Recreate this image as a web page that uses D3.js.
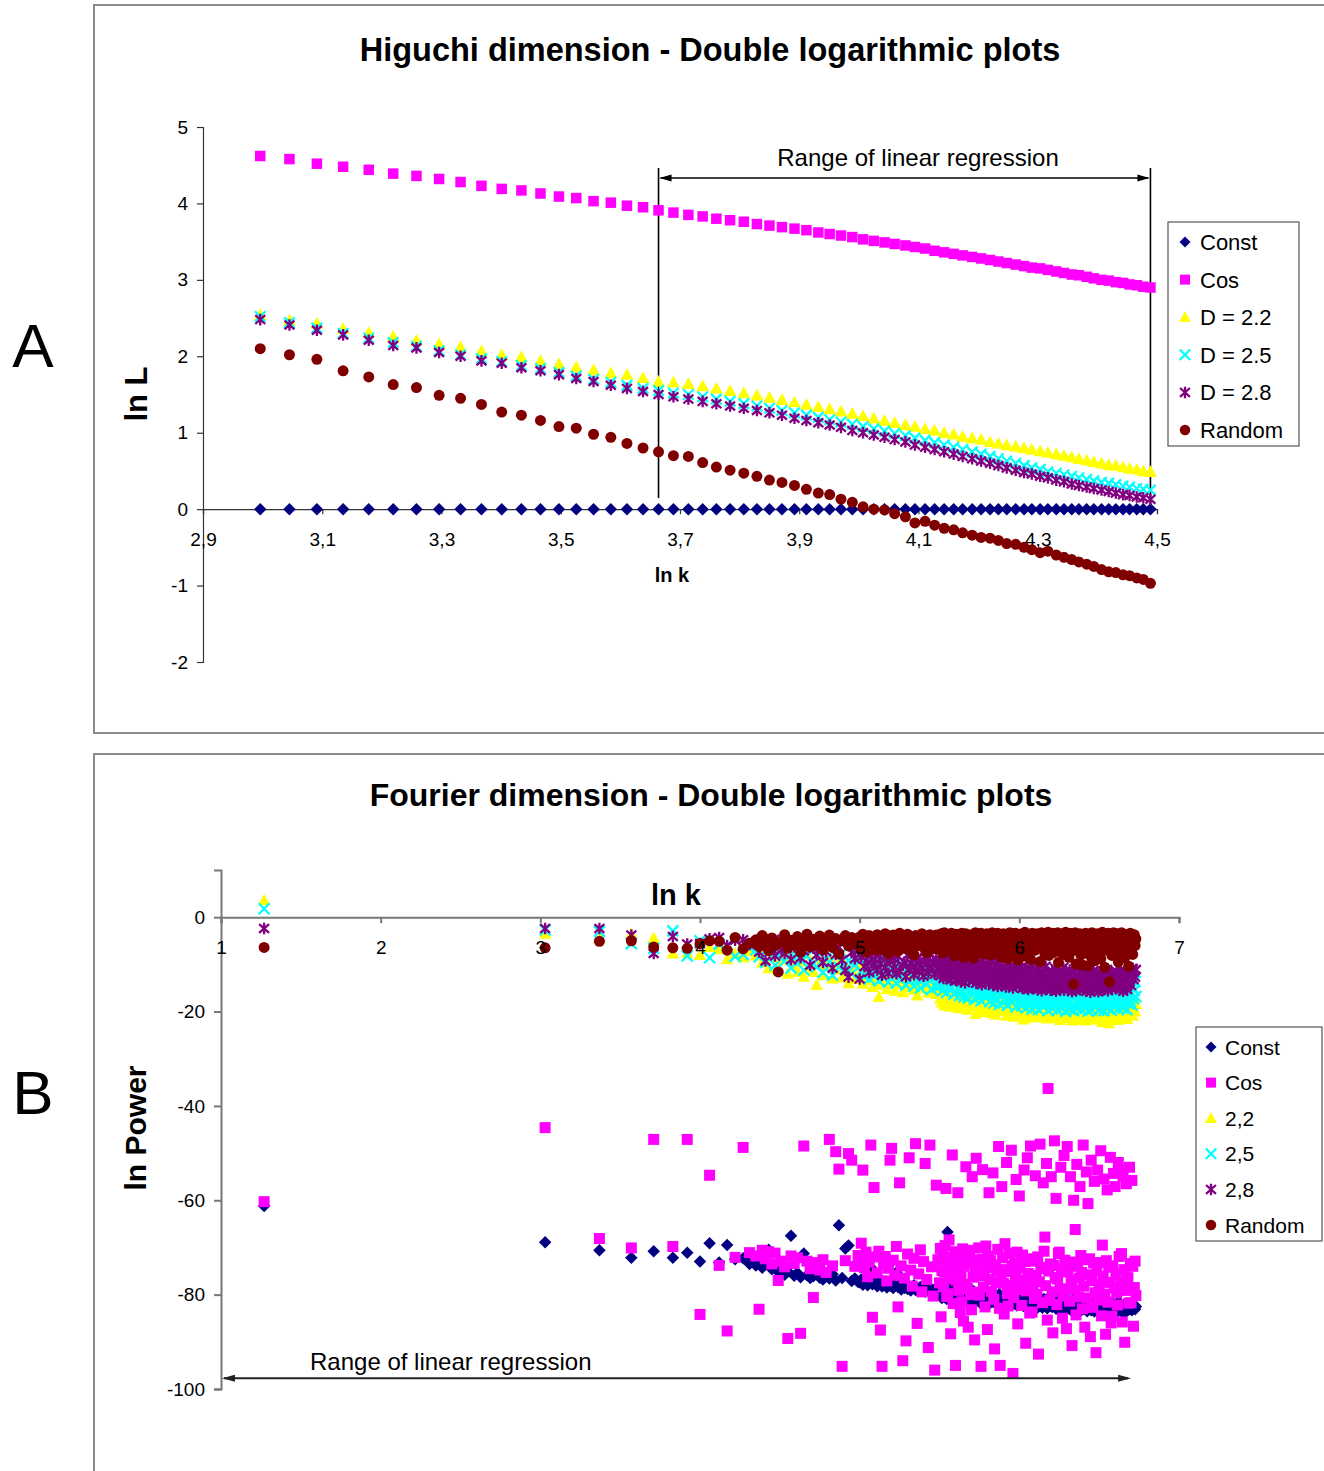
<!DOCTYPE html>
<html><head><meta charset="utf-8">
<script src="https://cdn.jsdelivr.net/npm/d3@7"></script>
<style>
html,body{margin:0;padding:0;background:#fff}
svg{display:block}
</style>
</head><body>
<svg id="chart" width="1324" height="1471"></svg>
<script>
// ---------------- Panel A : Higuchi dimension (ln k = ln 20 ... ln 89) ----------------
const higuchiLnK = [2.996,3.045,3.091,3.135,3.178,3.219,3.258,3.296,3.332,3.367,3.401,3.434,3.466,3.497,3.526,3.555,3.584,3.611,3.638,3.664,
3.689,3.714,3.738,3.761,3.784,3.807,3.829,3.850,3.871,3.892,3.912,3.932,3.951,3.970,3.989,4.007,4.025,4.043,4.060,4.078,
4.094,4.111,4.127,4.143,4.159,4.174,4.190,4.205,4.220,4.234,4.248,4.263,4.277,4.290,4.304,4.317,4.331,4.344,4.357,4.369,
4.382,4.394,4.407,4.419,4.431,4.443,4.454,4.466,4.477,4.489];
const higuchiConst = [0,0,0,0,0,0,0,0,0,0,0,0,0,0,0,0,0,0,0,0,0,0,0,0,0,0,0,0,0,0,0,0,0,0,0,0,0,0,0,0,0,0,0,0,0,0,0,0,0,0,0,0,0,0,0,0,0,0,0,0,0,0,0,0,0,0,0,0,0,0];
const higuchiCos = [4.62,4.58,4.52,4.48,4.44,4.39,4.36,4.32,4.28,4.23,4.19,4.17,4.13,4.09,4.07,4.03,4.01,3.97,3.95,3.91,3.88,
3.85,3.83,3.80,3.78,3.76,3.73,3.71,3.69,3.67,3.65,3.62,3.60,3.58,3.56,3.53,3.51,3.49,3.47,3.45,3.43,3.41,3.38,3.36,3.34,3.32,3.30,3.28,3.26,3.24,3.22,3.20,3.18,3.16,3.15,3.13,3.11,3.09,3.07,3.06,3.04,3.02,3.00,2.99,2.97,2.96,2.94,2.93,2.91,2.90];
const higuchiD22 = [2.54,2.47,2.43,2.36,2.31,2.26,2.21,2.16,2.12,2.07,2.02,1.99,1.94,1.90,1.86,1.82,1.78,1.76,1.72,1.67,1.66,
1.64,1.61,1.58,1.55,1.52,1.49,1.46,1.43,1.40,1.37,1.34,1.31,1.28,1.25,1.22,1.19,1.16,1.13,1.10,1.08,1.05,1.03,1.00,0.98,0.95,0.93,0.91,0.88,0.86,0.84,0.82,0.80,0.78,0.76,0.74,0.72,0.70,0.68,0.66,0.64,0.62,0.60,0.58,0.57,0.55,0.53,0.52,0.50,0.49];
const higuchiD25 = [2.52,2.44,2.37,2.30,2.24,2.18,2.13,2.07,2.02,1.97,1.93,1.88,1.84,1.79,1.74,1.70,1.66,1.62,1.58,1.55,1.52,
1.50,1.47,1.44,1.41,1.38,1.35,1.32,1.29,1.26,1.23,1.20,1.17,1.14,1.11,1.08,1.05,1.02,0.99,0.96,0.93,0.90,0.87,0.84,0.81,0.78,0.75,0.72,0.69,0.66,0.63,0.60,0.57,0.54,0.52,0.49,0.47,0.45,0.43,0.41,0.39,0.37,0.35,0.34,0.32,0.30,0.29,0.27,0.26,0.25];
const higuchiD28 = [2.48,2.41,2.34,2.28,2.21,2.14,2.11,2.05,2.00,1.94,1.91,1.85,1.81,1.76,1.71,1.67,1.62,1.58,1.54,1.50,1.47,
1.44,1.41,1.38,1.35,1.32,1.29,1.26,1.23,1.19,1.16,1.13,1.10,1.07,1.03,1.00,0.97,0.94,0.91,0.88,0.84,0.81,0.78,0.75,0.72,0.69,0.66,0.63,0.60,0.57,0.54,0.51,0.48,0.46,0.43,0.41,0.38,0.36,0.33,0.31,0.29,0.27,0.25,0.23,0.21,0.19,0.18,0.16,0.15,0.13];
const higuchiRandom = [2.10,2.02,1.96,1.81,1.73,1.63,1.59,1.49,1.45,1.37,1.27,1.23,1.16,1.08,1.06,0.98,0.94,0.86,0.80,0.75,0.70,
0.69,0.61,0.55,0.51,0.47,0.43,0.38,0.35,0.31,0.26,0.21,0.19,0.13,0.09,0.03,0.00,-0.01,-0.06,-0.10,-0.18,-0.16,-0.21,-0.25,-0.27,-0.31,-0.34,-0.37,-0.38,-0.41,-0.45,-0.46,-0.50,-0.53,-0.57,-0.55,-0.60,-0.63,-0.66,-0.69,-0.72,-0.75,-0.79,-0.82,-0.83,-0.86,-0.87,-0.90,-0.92,-0.97];
const higuchiXTicks = [2.9,3.1,3.3,3.5,3.7,3.9,4.1,4.3,4.5];
const higuchiYTicks = [5,4,3,2,1,0,-1,-2];
const higuchiNames = ["Const","Cos","D = 2.2","D = 2.5","D = 2.8","Random"];

// ---------------- Panel B : Fourier dimension ----------------
const fourierLnK = [1.27,3.03,3.37,3.57,3.71,3.83,3.92,4.00,4.06,4.12,4.17,4.22,4.27,4.31,
4.35,4.37,4.39,4.41,4.43,4.45,4.47,4.49,4.51,4.53,4.55,4.57,4.59,4.61,4.63,4.65,4.67,
4.69,4.71,4.73,4.75,4.77,4.79,4.81,4.83,4.85,4.87,4.89,4.91,4.93,4.95,4.97,4.99,
5.00,5.01,5.02,5.03,5.04,5.05,5.06,5.07,5.08,5.09,
5.10,5.11,5.12,5.13,5.14,5.15,5.16,5.17,5.18,5.19,
5.20,5.21,5.22,5.23,5.24,5.25,5.26,5.27,5.28,5.29,
5.30,5.31,5.32,5.33,5.34,5.35,5.36,5.37,5.38,5.39,
5.40,5.41,5.42,5.43,5.44,5.45,5.46,5.47,5.48,5.49,
5.500,5.505,5.510,5.515,5.520,5.525,5.530,5.535,5.540,5.545,5.550,5.555,5.560,5.565,5.570,5.575,5.580,5.585,5.590,5.595,
5.600,5.605,5.610,5.615,5.620,5.625,5.630,5.635,5.640,5.645,5.650,5.655,5.660,5.665,5.670,5.675,5.680,5.685,5.690,5.695,
5.700,5.705,5.710,5.715,5.720,5.725,5.730,5.735,5.740,5.745,5.750,5.755,5.760,5.765,5.770,5.775,5.780,5.785,5.790,5.795,
5.800,5.805,5.810,5.815,5.820,5.825,5.830,5.835,5.840,5.845,5.850,5.855,5.860,5.865,5.870,5.875,5.880,5.885,5.890,5.895,
5.900,5.905,5.910,5.915,5.920,5.925,5.930,5.935,5.940,5.945,5.950,5.955,5.960,5.965,5.970,5.975,5.980,5.985,5.990,5.995,
6.000,6.005,6.010,6.015,6.020,6.025,6.030,6.035,6.040,6.045,6.050,6.055,6.060,6.065,6.070,6.075,6.080,6.085,6.090,6.095,
6.100,6.105,6.110,6.115,6.120,6.125,6.130,6.135,6.140,6.145,6.150,6.155,6.160,6.165,6.170,6.175,6.180,6.185,6.190,6.195,
6.200,6.205,6.210,6.215,6.220,6.225,6.230,6.235,6.240,6.245,6.250,6.255,6.260,6.265,6.270,6.275,6.280,6.285,6.290,6.295,
6.300,6.305,6.310,6.315,6.320,6.325,6.330,6.335,6.340,6.345,6.350,6.355,6.360,6.365,6.370,6.375,6.380,6.385,6.390,6.395,
6.400,6.405,6.410,6.415,6.420,6.425,6.430,6.435,6.440,6.445,6.450,6.455,6.460,6.465,6.470,6.475,6.480,6.485,6.490,6.495,
6.500,6.505,6.510,6.515,6.520,6.525,6.530,6.535,6.540,6.545,6.550,6.555,6.560,6.565,6.570,6.575,6.580,6.585,6.590,6.595,
6.600,6.605,6.610,6.615,6.620,6.625,6.630,6.635,6.640,6.645,6.650,6.655,6.660,6.665,6.670,6.675,6.680,6.685,6.690,6.695,
6.700,6.705,6.710,6.715,6.720,6.725,6.730];

const fourierConst = [-61.2,-68.9,-70.6,-72.2,-70.8,-72.2,-71.1,-73.0,-69.1,-73.2,-69.5,-72.5,-72.3,-73.5,
-73.8,-72.6,-74.3,-73.1,-70.5,-74.6,-73.9,-75.2,-74.4,-75.8,-75.1,-67.5,-76.0,-75.4,-76.3,-71.3,-75.9,-76.5,-76.1,-73.6,-76.4,-76.8,-75.9,-76.6,-75.7,-77.0,-65.3,-76.5,-70.2,-69.6,-77.1,-76.6,-77.3,
-77.4,-76.8,-77.9,-77.1,-76.5,-78.0,-77.3,-74.2,-77.8,-77.0,
-77.6,-78.2,-77.4,-76.9,-78.3,-77.8,-77.2,-78.5,-77.9,-78.1,
-77.5,-78.6,-78.0,-75.3,-78.4,-77.8,-78.9,-78.2,-78.6,-77.9,
-78.8,-78.3,-79.1,-78.5,-78.0,-79.0,-78.6,-79.3,-78.4,-79.0,
-78.7,-79.4,-78.9,-79.2,-78.5,-79.6,-79.0,-79.3,-78.8,-79.7,
-78.4,-80.2,-79.1,-80.7,-78.8,-79.9,-80.5,-78.6,-79.6,-80.9,-66.7,-79.2,-80.4,-78.9,-80.8,-79.5,-78.7,-80.3,-79.4,-81.0,
-79.3,-80.9,-78.9,-80.4,-81.2,-79.6,-80.1,-78.8,-80.7,-79.5,-81.3,-79.9,-80.6,-79.1,-81.0,-80.2,-79.4,-81.4,-79.8,-80.5,
-81.1,-79.6,-80.8,-79.3,-81.5,-80.1,-79.8,-81.2,-80.4,-79.5,-81.6,-80.0,-80.9,-79.7,-81.3,-80.5,-79.9,-81.7,-80.2,-80.7,
-79.9,-81.4,-80.3,-81.8,-80.0,-80.8,-81.5,-79.8,-81.1,-80.5,-81.9,-80.2,-81.2,-80.6,-81.6,-79.9,-81.0,-82.0,-80.4,-81.3,
-80.7,-81.8,-80.1,-81.4,-82.1,-80.6,-81.1,-80.3,-81.7,-80.9,-82.2,-80.5,-81.5,-80.8,-81.9,-80.4,-81.3,-82.3,-80.6,-81.6,
-81.0,-82.1,-80.5,-81.7,-80.9,-82.4,-81.2,-80.7,-81.9,-81.3,-82.5,-80.8,-81.6,-81.1,-82.2,-80.6,-81.8,-82.6,-81.0,-81.4,
-82.0,-80.9,-81.5,-82.7,-81.2,-80.8,-82.3,-81.6,-81.0,-82.8,-81.4,-80.9,-82.1,-81.7,-81.1,-82.9,-81.3,-80.8,-82.4,-81.8,
-81.2,-82.6,-81.5,-80.9,-82.2,-81.7,-83.0,-81.3,-82.5,-81.0,-82.8,-81.6,-82.0,-81.4,-83.1,-81.8,-81.1,-82.7,-81.5,-82.3,
-81.7,-82.9,-81.3,-82.4,-83.2,-81.6,-82.1,-81.2,-82.8,-81.9,-83.3,-81.5,-82.5,-81.8,-83.0,-81.4,-82.6,-83.4,-81.7,-82.2,
-82.0,-83.1,-81.6,-82.7,-81.9,-83.5,-82.3,-81.5,-82.9,-82.1,-83.3,-81.7,-82.6,-82.0,-83.6,-81.8,-82.4,-83.2,-81.9,-82.8,
-82.5,-81.8,-83.4,-82.2,-83.0,-81.6,-82.7,-83.7,-82.1,-82.9,-81.9,-83.5,-82.4,-82.8,-81.7,-83.3,-82.6,-83.8,-82.0,-82.7,
-83.1,-82.3,-81.9,-83.6,-82.5,-82.9,-81.8,-83.4,-82.2,-83.0,-82.6,-83.9,-82.1,-82.8,-83.5,-82.4,-81.9,-83.2,-82.7,-83.0,
-82.4,-83.3,-82.0,-82.8,-82.2,-83.1,-82.5];

const fourierCos = [-60.3,-44.6,-68.1,-70.1,-47.1,-69.8,-47.1,-84.2,-54.7,-73.8,-87.7,-72.1,-48.8,-71.1,
-71.8,-83.1,-70.6,-72.4,-70.9,-73.5,-71.2,-77.0,-72.9,-74.1,-89.3,-71.8,-73.4,-72.2,-88.2,-48.5,-72.9,-74.5,-80.6,-73.2,-74.8,-72.6,-75.3,-47.1,-73.9,-49.7,-53.4,-95.2,-72.8,-50.1,-51.5,-74.0,-71.7,
-72.5,-69.1,-53.6,-74.3,-71.0,-76.2,-73.1,-48.3,-84.8,-57.3,
-72.0,-75.4,-70.8,-87.5,-95.2,-73.6,-71.9,-77.1,-74.4,-51.5,
-49.0,-72.7,-75.9,-69.8,-82.6,-56.3,-73.9,-94.0,-76.5,-89.8,
-71.4,-51.0,-74.8,-78.2,-72.3,-48.0,-86.1,-75.6,-70.5,-79.4,
-73.0,-52.2,-76.8,-91.2,-48.3,-74.1,-80.3,-96.0,-56.8,-72.6,
-77.5,-70.2,-84.7,-74.9,-71.8,-78.3,-75.2,-69.6,-57.5,-80.4,-79.8,-73.0,-68.4,-76.6,-88.3,-72.1,-50.4,-81.9,-74.6,-70.9,
-95.0,-76.9,-73.4,-58.4,-79.1,-72.1,-83.8,-75.7,-81.5,-70.3,-85.6,-74.0,-77.8,-52.9,-71.5,-78.7,-86.9,-73.2,-70.6,-80.0,
-83.2,-55.0,-76.3,-72.7,-89.6,-74.8,-51.1,-79.5,-73.4,-70.1,-80.1,-76.0,-95.2,-72.5,-53.5,-78.4,-75.8,-82.6,-69.7,-74.3,
-87.4,-71.9,-58.4,-76.8,-72.8,-79.3,-74.1,-54.2,-81.0,-91.5,-73.7,-77.5,-74.9,-70.4,-48.6,-82.9,-95.0,-75.4,-57.1,-72.2,
-77.6,-84.1,-69.2,-74.7,-52.0,-79.8,-82.4,-71.3,-75.1,-78.0,-49.4,-73.9,-96.7,-80.6,-73.3,-76.2,-55.6,-71.0,-86.2,-78.9,
-59.1,-74.4,-78.4,-82.3,-71.6,-76.9,-53.6,-73.0,-90.3,-79.2,-51.0,-75.5,-76.0,-83.9,-48.5,-72.4,-83.7,-77.7,-72.9,-80.8,
-54.8,-75.9,-79.9,-72.0,-92.6,-77.3,-48.1,-74.2,-74.5,-81.7,-56.3,-70.8,-67.8,-78.1,-52.2,-85.4,-36.3,-75.0,-81.2,-73.5,
-55.0,-79.4,-88.1,-73.8,-47.4,-76.4,-59.6,-82.1,-76.7,-71.3,-71.0,-78.8,-53.0,-74.6,-85.0,-80.3,-50.5,-72.7,-78.8,-87.2,
-48.6,-75.2,-73.6,-81.4,-55.0,-77.1,-90.8,-73.1,-60.0,-79.0,-66.2,-84.3,-52.4,-74.0,-80.5,-76.5,-57.1,-71.7,-75.3,-83.0,
-48.3,-78.2,-86.9,-72.6,-54.0,-80.7,-60.7,-75.8,-72.4,-88.9,-51.5,-77.0,-82.7,-73.3,-56.0,-79.6,-92.3,-74.9,-53.6,-81.1,
-77.9,-73.2,-49.5,-84.5,-69.5,-76.1,-55.5,-79.9,-88.4,-72.8,-57.8,-81.6,-74.2,-77.4,-50.9,-86.0,-84.6,-73.9,-54.3,-78.6,
-57.1,-75.7,-79.6,-82.2,-52.0,-71.9,-53.6,-77.3,-71.3,-85.8,-54.9,-74.7,-90.1,-79.1,-56.5,-76.8,-76.4,-81.8,-53.0,-73.4,
-81.7,-55.8,-74.0,-86.7,-78.5,-72.9,-80.2];

const fourierD22 = [3.6,-3.5,-4.5,-3.5,-4.4,-7.7,-7.6,-8.0,-6.3,-6.8,-8.9,-7.7,-8.5,-7.2,
-8.1,-6.4,-9.6,-7.2,-10.8,-8.5,-6.9,-11.3,-9.0,-7.8,-12.0,-8.8,-10.1,-11.6,-9.4,-12.6,-7.9,-10.6,-11.6,-14.4,-9.8,-12.3,-10.4,-8.7,-13.0,-11.1,-9.6,-12.8,-10.2,-14.0,-11.4,-13.1,-9.9,
-12.2,-10.5,-14.1,-11.4,-9.8,-13.3,-12.6,-10.9,-14.8,-11.7,
-13.0,-14.4,-16.9,-12.1,-10.6,-13.8,-11.9,-15.2,-12.8,-14.0,
-11.3,-13.6,-15.6,-12.4,-14.3,-10.8,-13.1,-15.9,-12.7,-14.6,
-13.4,-11.6,-14.9,-12.9,-15.4,-13.7,-16.6,-12.3,-14.2,-15.1,
-12.5,-14.7,-13.2,-16.0,-11.8,-15.5,-13.9,-12.6,-16.3,-14.1,
-15.0,-17.3,-13.7,-18.1,-15.8,-14.5,-18.7,-16.4,-14.2,-17.1,-15.3,-17.6,-16.0,-14.4,-19.0,-16.7,-15.1,-18.3,-15.5,-16.9,
-13.9,-17.8,-16.2,-14.8,-19.3,-16.5,-15.4,-18.0,-15.7,-14.3,-18.5,-17.2,-14.9,-17.7,-16.3,-19.6,-14.6,-17.0,-18.4,-15.9,
-17.4,-15.2,-18.9,-16.1,-17.5,-20.5,-14.7,-16.8,-18.6,-15.6,-17.9,-19.8,-15.3,-17.3,-19.1,-16.4,-18.2,-15.0,-20.1,-16.6,
-17.7,-15.9,-19.4,-17.1,-15.4,-20.3,-18.0,-16.2,-18.8,-16.5,-20.7,-17.6,-15.7,-19.2,-16.9,-19.9,-15.1,-18.3,-16.8,-19.0,
-16.3,-19.5,-17.8,-16.5,-20.9,-18.5,-16.0,-18.1,-20.2,-17.2,-15.3,-18.9,-17.5,-21.1,-16.7,-19.3,-16.1,-19.7,-17.9,-17.0,
-18.6,-16.8,-20.6,-18.1,-16.4,-21.7,-19.0,-17.3,-20.0,-17.7,-21.3,-16.2,-19.4,-18.4,-17.1,-20.8,-18.8,-20.3,-17.4,-17.9,
-19.8,-17.5,-19.1,-21.2,-16.9,-19.5,-18.3,-21.0,-17.2,-18.7,-20.5,-17.8,-20.1,-16.6,-19.3,-21.5,-18.0,-20.4,-18.5,-17.3,
-18.9,-21.0,-17.6,-19.7,-21.3,-17.4,-19.2,-20.7,-18.2,-20.0,-17.0,-21.8,-18.6,-20.4,-17.9,-21.4,-19.4,-17.2,-20.2,-18.4,
-20.8,-18.1,-19.9,-21.1,-18.7,-17.3,-21.2,-21.9,-17.8,-19.6,-19.0,-21.6,-17.5,-20.3,-21.0,-18.5,-21.4,-18.3,-19.8,-19.2,
-17.7,-20.5,-19.3,-21.9,-21.5,-18.2,-20.1,-21.3,-18.8,-21.2,-18.0,-19.7,-21.7,-19.1,-20.9,-18.4,-21.5,-19.5,-18.6,-21.1,
-19.9,-21.7,-17.9,-20.6,-22.2,-19.4,-20.4,-18.1,-22.0,-18.9,-21.2,-19.6,-22.5,-18.3,-20.8,-21.3,-19.2,-20.2,-17.8,-21.6,
-19.0,-21.4,-19.8,-21.8,-18.4,-20.7,-19.3,-21.4,-20.1,-18.1,-21.1,-18.7,-21.0,-19.5,-18.2,-21.6,-20.3,-18.9,-20.5,-17.7,
-19.6,-18.4,-20.9,-19.1,-17.3,-20.0,-18.4];

const fourierD25 = [1.8,-2.7,-3.0,-5.6,-6.6,-2.9,-8.2,-5.0,-8.6,-5.7,-6.0,-8.3,-7.9,-6.4,
-6.9,-8.4,-5.3,-9.6,-7.5,-6.2,-10.2,-8.0,-7.1,-9.3,-6.6,-10.8,-8.7,-7.4,-9.1,-11.2,-8.2,-6.8,-9.9,-10.5,-7.7,-11.7,-8.9,-9.5,-12.3,-8.1,-10.6,-7.6,-11.0,-9.2,-12.0,-10.1,-8.6,
-9.4,-11.5,-8.3,-12.6,-10.2,-9.0,-13.1,-10.8,-11.9,-8.8,
-12.2,-10.0,-13.5,-9.6,-11.3,-12.9,-10.5,-9.2,-13.8,-11.1,
-10.7,-12.4,-9.9,-14.0,-11.6,-10.3,-13.3,-12.0,-9.7,-14.4,
-11.8,-13.6,-10.4,-12.7,-14.6,-11.0,-13.0,-10.1,-15.0,-12.3,
-13.2,-10.9,-14.2,-12.5,-11.4,-15.3,-12.8,-10.6,-14.8,-13.4,
-11.7,-14.5,-12.6,-10.8,-15.6,-13.1,-11.9,-14.1,-12.2,-16.0,-13.7,-11.2,-14.9,-12.9,-10.5,-15.2,-13.4,-12.0,-16.3,-14.3,
-12.4,-15.8,-13.9,-11.5,-14.7,-16.6,-12.8,-13.5,-15.4,-11.8,-14.0,-16.9,-13.2,-12.1,-15.0,-14.4,-17.1,-12.7,-13.8,-15.7,
-14.6,-12.3,-16.1,-13.6,-17.4,-14.8,-11.9,-15.5,-13.0,-16.8,-14.2,-12.6,-17.7,-15.1,-13.3,-16.4,-14.9,-12.8,-17.0,-15.9,
-13.5,-16.5,-14.1,-17.9,-15.3,-12.5,-16.2,-14.7,-18.2,-13.8,-15.6,-17.2,-14.3,-16.0,-12.9,-18.5,-15.0,-13.7,-16.7,-14.5,
-16.3,-14.0,-17.8,-15.2,-13.4,-18.7,-16.0,-14.6,-17.5,-15.8,-13.1,-18.0,-16.6,-14.8,-17.3,-15.5,-19.0,-14.2,-16.9,-15.1,
-17.6,-14.4,-16.4,-18.8,-15.7,-13.6,-17.9,-16.2,-15.0,-19.2,-14.9,-17.1,-16.5,-18.3,-14.1,-15.9,-19.5,-16.8,-15.4,-17.7,
-15.6,-18.4,-16.1,-14.5,-19.6,-17.0,-15.2,-18.1,-16.7,-14.7,-19.0,-17.4,-15.8,-18.6,-16.3,-14.3,-19.8,-17.2,-15.9,-18.0,
-16.9,-19.3,-15.5,-17.8,-14.9,-18.9,-16.4,-17.5,-19.7,-15.3,-18.2,-16.8,-14.6,-19.4,-17.1,-15.7,-18.7,-16.0,-19.9,-17.3,
-18.5,-15.9,-17.6,-19.5,-16.6,-14.8,-18.3,-17.0,-19.8,-15.6,-18.9,-16.2,-17.9,-15.1,-19.2,-16.9,-18.1,-15.4,-19.6,-17.4,
-16.5,-18.8,-15.8,-19.3,-17.7,-16.1,-19.9,-15.2,-18.4,-17.2,-19.6,-16.7,-15.5,-18.6,-17.5,-19.1,-16.3,-18.0,-15.7,-19.7,
-17.9,-15.3,-19.4,-16.8,-18.5,-15.9,-19.8,-17.3,-16.2,-18.9,-15.6,-19.2,-17.6,-16.5,-18.2,-19.7,-15.8,-17.0,-18.7,-16.4,
-19.0,-16.6,-18.3,-15.4,-19.5,-17.1,-16.0,-18.8,-17.7,-15.2,-19.3,-16.9,-18.1,-15.7,-17.4,-19.6,-16.3,-18.4,-15.9,-17.8,
-16.1,-18.6,-14.9,-17.3,-15.5,-13.6,-16.8];

const fourierD28 = [-2.4,-2.4,-2.4,-3.8,-7.7,-4.1,-5.7,-5.6,-4.6,-4.3,-6.0,-4.9,-4.8,-5.8,
-5.2,-7.4,-4.5,-9.3,-6.1,-5.6,-8.2,-4.9,-6.8,-7.7,-5.4,-9.0,-6.3,-5.0,-8.6,-7.1,-5.9,-10.2,-6.6,-8.0,-5.3,-9.6,-7.3,-6.0,-10.8,-7.9,-6.4,-9.1,-11.3,-12.7,-7.5,-8.8,-6.9,
-13.1,-8.4,-6.7,-10.5,-7.8,-9.6,-11.7,-7.2,-8.9,-10.1,
-6.9,-11.2,-8.1,-9.9,-12.3,-7.5,-10.6,-8.6,-11.9,-9.3,
-7.7,-10.9,-9.0,-12.0,-8.3,-11.4,-6.8,-10.2,-9.5,-12.6,
-8.0,-11.1,-9.7,-7.4,-12.2,-10.4,-8.7,-11.6,-9.2,-10.8,
-12.5,-8.5,-10.0,-11.8,-7.9,-10.7,-9.4,-12.1,-8.8,-11.0,
-9.8,-12.4,-8.2,-11.3,-10.1,-13.0,-8.9,-11.7,-9.5,-12.8,-10.6,-7.6,-12.0,-9.1,-13.3,-10.9,-8.4,-11.5,-9.7,-12.6,
-10.3,-13.4,-8.7,-11.9,-10.0,-12.9,-9.3,-13.7,-11.1,-8.6,-12.3,-10.8,-13.9,-9.0,-11.6,-12.5,-9.9,-13.1,-10.5,-12.0,
-11.4,-9.4,-13.5,-10.7,-12.7,-8.8,-14.0,-11.0,-12.2,-9.6,-13.2,-10.4,-11.8,-14.3,-9.2,-12.9,-10.9,-13.6,-11.3,-9.8,
-12.4,-10.2,-14.1,-11.6,-13.0,-9.5,-12.6,-14.5,-10.8,-11.9,-13.8,-9.9,-12.1,-14.7,-11.2,-13.3,-10.0,-12.8,-14.2,-11.5,
-13.5,-10.6,-12.3,-14.8,-11.0,-13.9,-9.7,-12.7,-14.4,-10.9,-13.1,-11.7,-15.0,-10.3,-12.5,-14.0,-11.4,-13.7,-10.1,-12.9,
-14.6,-11.8,-13.2,-10.5,-15.1,-12.0,-13.6,-11.1,-14.9,-12.4,-10.7,-15.3,-13.0,-11.5,-14.1,-12.8,-10.2,-15.0,-13.4,-11.9,
-12.6,-14.8,-11.3,-15.4,-13.1,-10.9,-14.3,-12.2,-15.6,-13.8,-11.6,-14.5,-12.9,-10.4,-15.2,-13.3,-11.8,-14.7,-12.1,-15.5,
-13.9,-11.4,-15.0,-12.7,-14.2,-10.8,-15.7,-13.2,-12.0,-14.9,-11.7,-15.3,-13.6,-12.3,-14.6,-10.6,-15.5,-13.0,-11.9,-14.4,
-12.5,-15.2,-13.7,-11.2,-14.8,-12.8,-15.8,-13.4,-11.5,-14.0,-12.2,-15.6,-13.9,-10.9,-14.7,-12.6,-15.1,-11.8,-13.5,-14.3,
-15.4,-12.9,-14.1,-11.6,-15.7,-13.3,-12.1,-14.6,-11.0,-15.9,-13.8,-12.4,-14.9,-11.3,-15.3,-13.0,-12.7,-14.5,-11.7,-15.8,
-13.6,-11.9,-15.5,-12.8,-14.2,-11.4,-15.1,-13.9,-12.3,-14.8,-11.1,-15.6,-13.2,-12.6,-14.4,-11.8,-15.2,-13.5,-12.0,-14.7,
-12.9,-15.0,-11.5,-14.3,-13.7,-12.2,-15.4,-11.2,-14.0,-13.1,-15.7,-12.5,-14.6,-11.8,-13.4,-15.3,-12.0,-14.1,-13.8,-11.6,
-14.5,-12.3,-10.9,-13.2,-11.4,-12.7,-11.1];

const fourierRandom = [-6.4,-6.5,-5.1,-5.0,-6.3,-6.5,-6.6,-5.6,-5.0,-5.1,-7.0,-4.3,-6.7,-5.5,
-4.8,-6.2,-3.9,-5.5,-7.1,-4.4,-6.0,-11.6,-5.2,-3.7,-6.6,-4.9,-5.8,-4.1,-7.4,-5.4,-3.6,-6.3,-4.7,-5.9,-4.0,-6.9,-5.1,-3.8,-6.4,-4.5,-7.8,-5.0,-3.9,-6.1,-4.3,-5.7,-4.6,
-4.2,-6.5,-3.6,-5.3,-7.4,-4.8,-3.9,-6.0,-5.1,-4.4,
-7.0,-3.7,-5.6,-4.1,-6.8,-4.6,-3.5,-5.9,-7.7,-4.0,
-5.4,-3.8,-6.3,-4.9,-7.2,-3.4,-5.0,-6.6,-4.3,-5.7,
-3.6,-6.9,-4.5,-5.2,-8.0,-3.9,-6.1,-4.7,-5.5,-3.5,
-6.4,-4.0,-7.5,-5.0,-3.7,-5.8,-4.4,-6.7,-3.8,-5.3,
-4.1,-6.2,-3.5,-5.4,-7.6,-4.6,-3.3,-5.9,-4.0,-6.8,-5.1,-3.7,-7.1,-4.4,-5.7,-3.4,-6.5,-4.8,-3.9,-8.2,
-5.3,-3.6,-6.0,-4.3,-7.4,-3.8,-5.6,-4.9,-3.4,-6.6,-4.2,-8.5,-5.0,-3.5,-6.3,-4.7,-3.9,-7.0,-5.5,-4.0,
-3.7,-6.4,-4.5,-8.7,-5.2,-3.3,-6.9,-4.1,-5.8,-3.6,-7.3,-4.8,-3.4,-6.1,-5.0,-3.9,-7.8,-4.4,-5.6,-3.5,
-6.7,-4.2,-3.6,-5.9,-8.0,-4.6,-3.3,-6.2,-5.3,-3.8,-7.5,-4.0,-5.5,-3.4,-6.8,-4.9,-3.7,-8.4,-5.1,-4.3,
-3.5,-6.0,-4.7,-7.2,-3.9,-5.4,-8.8,-4.1,-3.3,-6.5,-5.0,-3.6,-7.7,-4.5,-5.8,-3.4,-6.3,-4.8,-9.1,-3.8,
-5.6,-4.0,-6.9,-3.5,-5.2,-8.3,-4.4,-3.2,-6.6,-4.9,-3.7,-7.4,-5.5,-3.9,-8.9,-4.6,-3.4,-6.1,-5.0,-3.6,
-7.0,-4.3,-3.5,-6.4,-5.7,-3.8,-9.4,-4.7,-3.3,-6.0,-5.3,-4.0,-7.8,-3.6,-5.9,-4.5,-3.2,-8.1,-5.1,-3.9,
-6.2,-4.1,-3.4,-7.5,-5.4,-3.7,-6.8,-4.8,-3.3,-9.6,-5.0,-3.9,-6.5,-4.3,-3.5,-7.9,-5.6,-4.0,-3.2,-6.7,
-4.6,-3.6,-8.5,-5.3,-3.4,-6.3,-4.2,-7.1,-14.2,-5.8,-3.3,-9.9,-4.9,-3.7,-6.1,-5.5,-3.5,-8.0,-4.4,-10.1,
-3.9,-6.9,-4.7,-3.4,-7.6,-5.2,-10.3,-3.6,-5.9,-4.1,-8.4,-3.3,-6.4,-5.0,-3.8,-9.2,-4.5,-6.0,-3.5,-7.3,
-5.4,-3.7,-8.8,-4.3,-3.2,-6.7,-5.1,-10.6,-3.9,-7.0,-4.6,-3.4,-6.2,-13.7,-4.8,-3.6,-8.1,-5.7,-3.3,-6.5,
-4.4,-7.7,-3.5,-5.5,-9.5,-3.8,-6.1,-4.9,-3.3,-7.2,-5.2,-3.6,-8.6,-4.2,-6.8,-3.9,-5.6,-10.4,-4.5,-3.4,
-6.3,-4.0,-7.9,-5.1,-3.7,-6.0,-4.6];

const fourierXTicks = [1,2,3,4,5,6,7];
const fourierYTicks = [0,-20,-40,-60,-80,-100];
const fourierNames = ["Const","Cos","2,2","2,5","2,8","Random"];

// ---------------- styles ----------------
const FONT = '"Liberation Sans", Arial, Helvetica, sans-serif';
const markerTypes = ["diamond","square","triangle","x","star","circle"];
const markerColors = ["#000080","#FF00FF","#FFFF00","#00FFFF","#800080","#800000"];
const sizesA = {diamond:12.5, square:10.5, triangle:13, x:10.5, star:11, circle:11};
const sizesB = {diamond:12.5, square:11, triangle:12.5, x:11, star:11, circle:11};
const legSizes = {diamond:11, square:10, triangle:12, x:10.5, star:11, circle:10.5};

function symbolPath(type, x, y, s) {
  const r = s / 2;
  switch (type) {
    case "diamond": return `M${x},${y-r}L${x+r},${y}L${x},${y+r}L${x-r},${y}Z`;
    case "square": return `M${x-r},${y-r}h${s}v${s}h${-s}Z`;
    case "triangle": return `M${x},${y-r}L${x+r},${y+r*0.8}L${x-r},${y+r*0.8}Z`;
    case "x": return `M${x-r},${y-r}L${x+r},${y+r}M${x+r},${y-r}L${x-r},${y+r}`;
    case "star": return `M${x-r*0.9},${y-r*0.8}L${x+r*0.9},${y+r*0.8}M${x+r*0.9},${y-r*0.8}L${x-r*0.9},${y+r*0.8}M${x},${y-r*1.05}L${x},${y+r*1.05}`;
    case "circle": return `M${x-r},${y}a${r},${r} 0 1,0 ${s},0a${r},${r} 0 1,0 ${-s},0Z`;
  }
}
function styleMarker(sel, type, color) {
  if (type === "x" || type === "star") {
    sel.attr("fill", "none").attr("stroke", color).attr("stroke-width", 2.3).attr("stroke-linecap", "butt");
  } else {
    sel.attr("fill", color).attr("stroke", "none");
  }
}

const svg = d3.select("#chart");
svg.append("rect").attr("x",0).attr("y",0).attr("width",1324).attr("height",1471).attr("fill","#fff");

// panel frames
svg.append("rect").attr("x",94).attr("y",5).attr("width",1260).attr("height",728)
  .attr("fill","#fff").attr("stroke","#8a8a8a").attr("stroke-width",2);
svg.append("rect").attr("x",94).attr("y",754).attr("width",1260).attr("height",740)
  .attr("fill","#fff").attr("stroke","#8a8a8a").attr("stroke-width",2);

// ================= PANEL A =================
const xA = d3.scaleLinear().domain([2.9, 4.5]).range([203, 1157]);
const yA = d3.scaleLinear().domain([-2, 5]).range([662, 127]);
const gA = svg.append("g");

gA.append("text").attr("x",710).attr("y",61).attr("text-anchor","middle")
  .attr("font-family",FONT).attr("font-weight","bold").attr("font-size",32.5).text("Higuchi dimension - Double logarithmic plots");
gA.append("text").attr("x",33).attr("y",367).attr("text-anchor","middle")
  .attr("font-family",FONT).attr("font-size",62).text("A");

const axAy = gA.append("g").attr("transform",`translate(${xA(2.9)},0)`)
  .call(d3.axisLeft(yA).tickValues(higuchiYTicks).tickFormat(d => String(d)).tickSizeOuter(0).tickSize(6).tickPadding(9));
const axAx = gA.append("g").attr("transform",`translate(0,${yA(0)})`)
  .call(d3.axisBottom(xA).tickValues(higuchiXTicks).tickFormat(d => d3.format(".1f")(d).replace(".", ",")).tickSizeOuter(0).tickSize(5).tickPadding(18));
[axAy, axAx].forEach(a => {
  a.selectAll("path,line").attr("stroke","#333").attr("stroke-width",1.2);
  a.selectAll("text").attr("font-family",FONT).attr("font-size",19).attr("fill","#000");
});

gA.append("text").attr("x",672).attr("y",582).attr("text-anchor","middle")
  .attr("font-family",FONT).attr("font-weight","bold").attr("font-size",20).text("ln k");
gA.append("text").attr("transform","translate(147,394) rotate(-90)").attr("text-anchor","middle")
  .attr("font-family",FONT).attr("font-weight","bold").attr("font-size",31).text("ln L");

// range of linear regression (A): from ln 39 to ln 89
const rxL = xA(higuchiLnK[19]), rxR = xA(higuchiLnK[higuchiLnK.length - 1]);
gA.append("line").attr("x1",rxL).attr("x2",rxL).attr("y1",168).attr("y2",498).attr("stroke","#000").attr("stroke-width",1.6);
gA.append("line").attr("x1",rxR).attr("x2",rxR).attr("y1",168).attr("y2",513).attr("stroke","#000").attr("stroke-width",1.6);
gA.append("line").attr("x1",rxL+2).attr("x2",rxR-2).attr("y1",178).attr("y2",178).attr("stroke","#000").attr("stroke-width",1.6);
gA.append("path").attr("d",`M${rxL+1},178L${rxL+13},174.5L${rxL+13},181.5Z`).attr("fill","#000");
gA.append("path").attr("d",`M${rxR-1},178L${rxR-13},174.5L${rxR-13},181.5Z`).attr("fill","#000");
gA.append("text").attr("x",918).attr("y",166).attr("text-anchor","middle")
  .attr("font-family",FONT).attr("font-size",24).text("Range of linear regression");

const seriesA = [higuchiConst, higuchiCos, higuchiD22, higuchiD25, higuchiD28, higuchiRandom];
seriesA.forEach((ys, si) => {
  const type = markerTypes[si], color = markerColors[si];
  const pts = higuchiLnK.map((x, i) => ({x, y: ys[i]})).filter(p => p.y !== undefined);
  const sel = gA.append("g").selectAll("path").data(pts).join("path")
    .attr("d", p => symbolPath(type, xA(p.x), yA(p.y), sizesA[type]));
  styleMarker(sel, type, color);
});

// legend A
const legA = gA.append("g");
legA.append("rect").attr("x",1168).attr("y",222).attr("width",131).attr("height",224)
  .attr("fill","#fff").attr("stroke","#555").attr("stroke-width",1.2);
higuchiNames.forEach((name, i) => {
  const cy = 242 + i * 37.6;
  const type = markerTypes[i];
  const m = legA.append("path").attr("d", symbolPath(type, 1185, cy, legSizes[type]));
  styleMarker(m, type, markerColors[i]);
  legA.append("text").attr("x",1200).attr("y",cy + 8).attr("font-family",FONT).attr("font-size",22).text(name);
});

// ================= PANEL B =================
const xB = d3.scaleLinear().domain([1, 7]).range([221, 1179]);
const yB = d3.scaleLinear().domain([-100, 10]).range([1389, 870]);
const gB = svg.append("g");

gB.append("text").attr("x",711).attr("y",806).attr("text-anchor","middle")
  .attr("font-family",FONT).attr("font-weight","bold").attr("font-size",32).text("Fourier dimension - Double logarithmic plots");
gB.append("text").attr("x",33).attr("y",1114).attr("text-anchor","middle")
  .attr("font-family",FONT).attr("font-size",62).text("B");

const seriesB = [fourierConst, fourierCos, fourierD22, fourierD25, fourierD28, fourierRandom];
seriesB.forEach((ys, si) => {
  const type = markerTypes[si], color = markerColors[si];
  const n = Math.min(fourierLnK.length, ys.length);
  const pts = fourierLnK.slice(0, n).map((x, i) => ({x, y: ys[i]}));
  const sel = gB.append("g").selectAll("path").data(pts).join("path")
    .attr("d", p => symbolPath(type, xB(p.x), yB(p.y), sizesB[type]));
  styleMarker(sel, type, color);
});

const axBy = gB.append("g").attr("transform",`translate(${xB(1)},0)`)
  .call(d3.axisLeft(yB).tickValues(fourierYTicks).tickFormat(d => String(d)).tickSizeOuter(0).tickSize(7).tickPadding(9));
const axBx = gB.append("g").attr("transform",`translate(0,${yB(0)})`)
  .call(d3.axisBottom(xB).tickValues(fourierXTicks).tickFormat(d => String(d)).tickSizeOuter(0).tickSize(6).tickPadding(17));
[axBy, axBx].forEach(a => {
  a.selectAll("path,line").attr("stroke","#777").attr("stroke-width",2);
  a.selectAll("text").attr("font-family",FONT).attr("font-size",19).attr("fill","#000");
});

gB.append("text").attr("x",676).attr("y",905).attr("text-anchor","middle")
  .attr("font-family",FONT).attr("font-weight","bold").attr("font-size",29).text("ln k");
gB.append("text").attr("transform","translate(146,1128) rotate(-90)").attr("text-anchor","middle")
  .attr("font-family",FONT).attr("font-weight","bold").attr("font-size",30).text("ln Power");

// range of linear regression (B)
const bxL = xB(1.0), bxR = xB(6.7), byR = yB(-97.7);
gB.append("line").attr("x1",bxL+3).attr("x2",bxR-3).attr("y1",byR).attr("y2",byR).attr("stroke","#222").attr("stroke-width",2);
gB.append("path").attr("d",`M${bxL+1},${byR}L${bxL+14},${byR-3.5}L${bxL+14},${byR+3.5}Z`).attr("fill","#222");
gB.append("path").attr("d",`M${bxR},${byR}L${bxR-13},${byR-3.5}L${bxR-13},${byR+3.5}Z`).attr("fill","#222");
gB.append("text").attr("x",310).attr("y",byR-8).attr("font-family",FONT).attr("font-size",24).text("Range of linear regression");

// legend B
const legB = gB.append("g");
legB.append("rect").attr("x",1196).attr("y",1027).attr("width",126).attr("height",214)
  .attr("fill","#fff").attr("stroke","#555").attr("stroke-width",1.2);
fourierNames.forEach((name, i) => {
  const cy = 1047 + i * 35.6;
  const type = markerTypes[i];
  const m = legB.append("path").attr("d", symbolPath(type, 1211, cy, legSizes[type]));
  styleMarker(m, type, markerColors[i]);
  legB.append("text").attr("x",1225).attr("y",cy + 7.5).attr("font-family",FONT).attr("font-size",21).text(name);
});
</script>
</body></html>
